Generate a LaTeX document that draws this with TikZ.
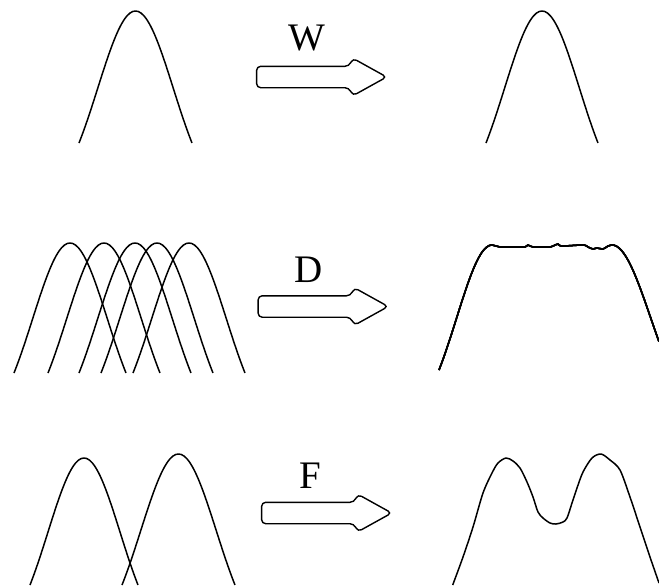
\documentclass[tikz,border=0pt]{standalone}
\usepackage{fontspec}
\setmainfont{Liberation Serif}
\usetikzlibrary{shapes.arrows}

\tikzset{
	curve/.style={line width=0.75pt, line join=round},
	maparrow/.style={draw, line width=0.7pt, single arrow, rounded corners=2pt,
		minimum height=65pt, minimum width=0pt, inner xsep=0pt, inner ysep=5pt,
		single arrow head extend=4pt, single arrow tip angle=58,
		single arrow head indent=-2pt},
	maplabel/.style={font=\fontsize{19.5}{22}\selectfont, inner sep=0pt}
}
\newcommand{\gbump}[4]{%
	\draw[curve] plot[domain=-1:1, samples=41, smooth]
	({#1+#2*\x}, {#3-#4*(exp(-1.125*\x*\x)-0.3247)/0.6753});}

\begin{document}
\begin{tikzpicture}[x=0.5pt, y=-0.5pt]
			\useasboundingbox (0,0) rectangle (659,586);
			% top row
			\gbump{135.5}{56.5}{143}{132}
			\gbump{542}{56}{143}{132}
			\node[maparrow] (wmap) at (312,77) {};
			\node[maplabel] (wlbl) at (306.5,38.5) {W};
			% middle row
			\foreach \cx in {70,104,135,157,189}
			\gbump{\cx}{56}{373}{130}
			\draw[curve] plot[domain=-1:0, samples=21, smooth]
			({492+53*\x},{370-125*(exp(-1.125*\x*\x)-0.3247)/0.6753})
			-- plot[smooth] coordinates {(500,247) (515,247) (525,247) (528,245) (533,247)
				(550,247) (555,245) (558,244) (562,246) (583,245) (588,247) (593,249)
				(597,248) (603,249) (608,246) (612,245)}
			-- plot[domain=0:0.81, samples=21, smooth]
			({612+58*\x},{370-125*(exp(-1.125*\x*\x)-0.3247)/0.6753});
			\node[maparrow] (dmap) at (313.5,306.5) {};
			\node[maplabel] (dlbl) at (309,269.5) {D};
			% bottom row
			\gbump{84}{54}{585}{127}
			\gbump{178.5}{56.5}{585}{131}
			\draw[curve] plot[smooth] coordinates {(452.7,585) (463,557) (473,527) (483,493)
				(492,473) (498,463) (506,458) (513,461) (520,468) (527,482) (533,497)
				(538,512) (543,518) (550,523) (556,524) (563,522) (567,518) (572,503)
				(577,488) (583,472) (592,458) (601,454) (610,460) (620,470) (630,497)
				(640,527) (650,557) (659,583)};
			\node[maparrow] (fmap) at (317,513) {};
			\node[maplabel] (flbl) at (310.5,475.5) {F};
		\end{tikzpicture}
\end{document}
